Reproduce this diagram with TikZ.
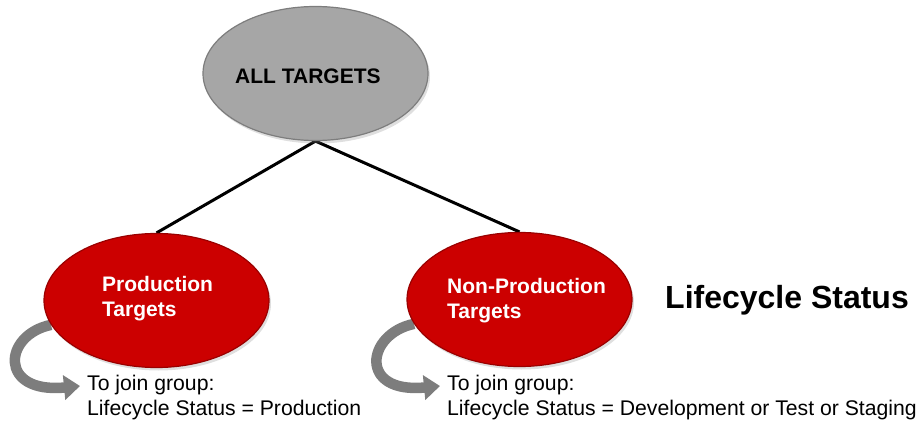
\documentclass[tikz,border=0pt]{standalone}
\usepackage{fontspec}
\setmainfont{Liberation Sans}
\usetikzlibrary{arrows.meta,shapes.geometric,shadows,backgrounds,calc}
\definecolor{ellred}{RGB}{204,0,0}
\definecolor{ellgray}{RGB}{166,166,166}
\definecolor{arrgray}{RGB}{125,125,125}
\begin{document}
\begin{tikzpicture}[x=1pt,y=-1pt,
  oval/.style={ellipse, minimum width=225pt, minimum height=134pt, inner sep=0pt, line width=1.2pt,
    drop shadow={shadow xshift=2pt,shadow yshift=-3pt,opacity=0.25}},
  redoval/.style={oval, fill=ellred, draw=ellred!75!black},
  grayoval/.style={oval, fill=ellgray, draw=ellgray!75!black},
  link/.style={line width=3pt, black},
  loopy/.style={line width=10.5pt, arrgray, -{Triangle[width=24pt,length=16pt]}},
  intext/.style={font=\fontsize{21}{25}\selectfont\bfseries, text=white, align=left, inner sep=0pt},
  note/.style={font=\fontsize{21.2}{25}\selectfont, align=left, inner sep=0pt}]
\useasboundingbox (0,0) rectangle (923,422);
\node[grayoval] (all) at (315.5,73.5) {};
\node[redoval] (prod) at (156.5,300.5) {};
\node[redoval] (nonprod) at (519.5,299.5) {};
\node[font=\fontsize{21}{25}\selectfont\bfseries, anchor=base west, inner sep=0pt] (alltxt) at (235,84) {ALL TARGETS};
\node[intext, anchor=west] (prodtxt) at (102,299) {Production\\Targets};
\node[intext, anchor=west] (nonprodtxt) at (447,300.5) {Non-Production\\Targets};
\node[font=\fontsize{32}{38}\selectfont\bfseries, anchor=base west, inner sep=0pt] (lcs) at (665,308) {Lifecycle Status};
\node[note, anchor=west] (prodnote) at (87,398) {To join group:\\Lifecycle Status = Production};
\node[note, anchor=west] (nonprodnote) at (447,398) {To join group:\\Lifecycle Status = Development or Test or Staging};
\begin{scope}[on background layer]
\draw[link] (all.south) -- (prod.north);
\draw[link] (all.south) -- (nonprod.north);
\draw[loopy] (prod.193) .. controls +(-48,10) and +(-82,8) .. ($(prodnote.west)+(-7,-12)$);
\draw[loopy] (nonprod.193) .. controls +(-48,10) and +(-82,8) .. ($(nonprodnote.west)+(-7,-12)$);
\end{scope}
\end{tikzpicture}
\end{document}
